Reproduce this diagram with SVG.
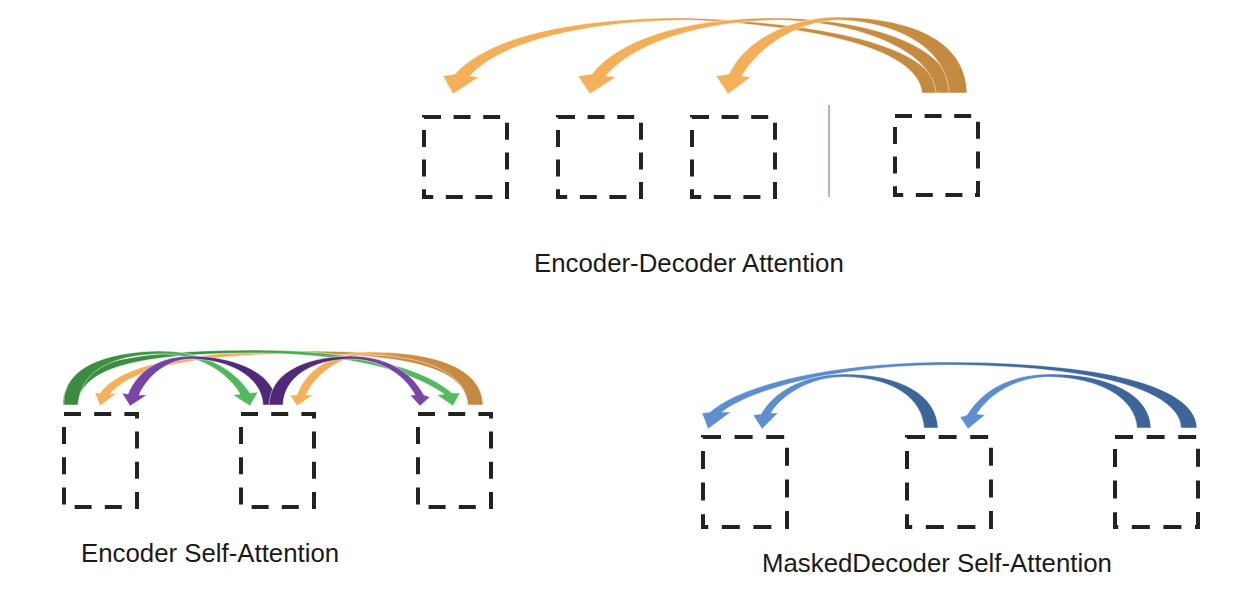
<svg xmlns="http://www.w3.org/2000/svg" width="1248" height="590" viewBox="0 0 1248 590">
<style>
.box{fill:none;stroke:#222;stroke-width:4;stroke-dasharray:17 12.6}
.box.es{stroke-dasharray:17 13.2}
.box.md{stroke-dasharray:18 13.6}
.lbl{font-family:"Liberation Sans",Arial,sans-serif;font-size:25.8px;fill:#1a1a1a}
.arr{stroke:#fff;stroke-width:0.7;stroke-opacity:0.7}
</style>
<defs>
<linearGradient id="gOr" x1="1" y1="0" x2="0" y2="0">
<stop offset="0" stop-color="#c28940"/><stop offset="0.42" stop-color="#c98f44"/><stop offset="0.6" stop-color="#f2ad56"/><stop offset="1" stop-color="#f4b05a"/>
</linearGradient>
<linearGradient id="gGr" x1="0" y1="0" x2="1" y2="0">
<stop offset="0" stop-color="#3a8a3f"/><stop offset="0.42" stop-color="#3f9244"/><stop offset="0.65" stop-color="#4fb35a"/><stop offset="1" stop-color="#55ba60"/>
</linearGradient>
<linearGradient id="gPuR" x1="0" y1="0" x2="1" y2="0">
<stop offset="0" stop-color="#4d2877"/><stop offset="0.4" stop-color="#532a80"/><stop offset="0.65" stop-color="#7442a3"/><stop offset="1" stop-color="#7a46aa"/>
</linearGradient>
<linearGradient id="gPuL" x1="1" y1="0" x2="0" y2="0">
<stop offset="0" stop-color="#4d2877"/><stop offset="0.4" stop-color="#532a80"/><stop offset="0.65" stop-color="#7442a3"/><stop offset="1" stop-color="#7a46aa"/>
</linearGradient>
<linearGradient id="gBl" x1="1" y1="0" x2="0" y2="0">
<stop offset="0" stop-color="#3d6497"/><stop offset="0.4" stop-color="#42699d"/><stop offset="0.62" stop-color="#5a8bca"/><stop offset="1" stop-color="#5e90d0"/>
</linearGradient>
</defs>

<!-- Encoder-Decoder Attention -->
<g id="ed-box1"><rect class="box" x="424" y="117" width="83" height="80"/></g>
<g id="ed-box2"><rect class="box" x="558" y="117" width="83" height="80"/></g>
<g id="ed-box3"><rect class="box" x="692" y="117" width="83" height="80"/></g>
<g id="ed-box4"><rect class="box" x="895" y="116" width="83" height="79"/></g>
<g id="ed-sep"><line x1="829" y1="105" x2="829" y2="197" stroke="#8aa0c8" stroke-width="1.5"/></g>

<!-- Encoder Self-Attention -->
<g id="es-box1"><rect class="box es" x="64" y="414" width="73" height="93"/></g>
<g id="es-box2"><rect class="box es" x="241" y="414" width="73" height="93"/></g>
<g id="es-box3"><rect class="box es" x="418" y="414" width="73" height="93"/></g>

<!-- Masked Decoder Self-Attention -->
<g id="md-box1"><rect class="box md" x="703" y="437" width="84" height="90"/></g>
<g id="md-box2"><rect class="box md" x="907" y="437" width="84" height="90"/></g>
<g id="md-box3"><rect class="box md" x="1115" y="437" width="83" height="90"/></g>

<g id="connectors">
<!-- top -->
<path class="arr" fill="url(#gOr)" d="M938,93 C936,55 860,25 690,18 C580,17 490,35 455,74 L443,76 L453,94 L479,77 L470,76 C500,42 585,21 690,20 C850,28 920,58 922,93 Z"/>
<path class="arr" fill="url(#gOr)" d="M953,93 C951,50 880,20 780,18 C690,17 620,38 592,74 L578,76 L590,94 L616,77 L606,76 C632,44 700,21 780,20 C870,23 933,55 936,93 Z"/>
<path class="arr" fill="url(#gOr)" d="M967,93 C966,45 920,18 838,17 C790,17 745,40 729,74 L716,76 L728,94 L751,77 L742,76 C758,48 795,22 838,20 C900,22 947,50 949,93 Z"/>
<!-- encoder self -->
<path class="arr" fill="url(#gOr)" d="M483,405 C482,365 430,351 300,351 C180,351 120,366 100,393 L95,393 L100,406 L117,393 L110,394 C130,370 190,354 300,354 C420,354 466,372 468,405 Z"/>
<path class="arr" fill="url(#gOr)" d="M483,405 C482,370 440,352 368,352 C330,352 305,372 297,395 L290,395 L297,406 L313,395 L306,395 C315,375 340,355 368,355 C430,356 466,375 468,405 Z"/>
<path class="arr" fill="url(#gGr)" d="M63,405 C62,365 120,351 250,350 C350,350 420,365 452,393 L460,393 L453,406 L437,395 L444,394 C410,370 345,353 250,353 C130,354 80,370 78,405 Z"/>
<path class="arr" fill="url(#gGr)" d="M64,405 C62,370 100,352 160,351 C205,351 235,370 250,393 L258,392 L250,406 L233,395 L240,394 C228,373 200,354 160,354 C110,355 80,372 78,405 Z"/>
<path class="arr" fill="url(#gPuL)" d="M277,405 C276,375 240,357 192,356 C160,356 138,370 128,394 L122,393 L130,406 L147,395 L139,395 C148,375 168,359 192,359 C232,360 262,378 263,405 Z"/>
<path class="arr" fill="url(#gPuR)" d="M269,405 C270,375 300,357 350,356 C385,356 410,370 424,395 L430,397 L420,406 L410,395 L415,395 C405,375 380,359 350,359 C310,360 284,378 283,405 Z"/>
<!-- masked decoder -->
<path class="arr" fill="url(#gBl)" d="M1197,428 C1196,390 1120,363 950,362 C830,362 740,385 710,412 L702,413 L708,429 L731,412 L722,412 C755,388 840,365 950,365 C1100,366 1180,392 1181,428 Z"/>
<path class="arr" fill="url(#gBl)" d="M938,428 C937,395 900,374 845,374 C805,374 775,390 761,414 L753,415 L762,429 L778,413 L771,413 C782,395 810,377 845,377 C893,378 922,398 924,428 Z"/>
<path class="arr" fill="url(#gBl)" d="M1151,428 C1150,395 1110,374 1050,374 C1010,374 982,390 967,415 L960,417 L968,429 L985,415 L977,414 C988,396 1015,377 1050,377 C1100,378 1135,398 1137,428 Z"/>
</g>

<g id="labels">
<text class="lbl" x="534" y="272">Encoder-Decoder Attention</text>
<text class="lbl" x="81" y="562">Encoder Self-Attention</text>
<text class="lbl" x="762" y="572">MaskedDecoder Self-Attention</text>
</g>
</svg>
